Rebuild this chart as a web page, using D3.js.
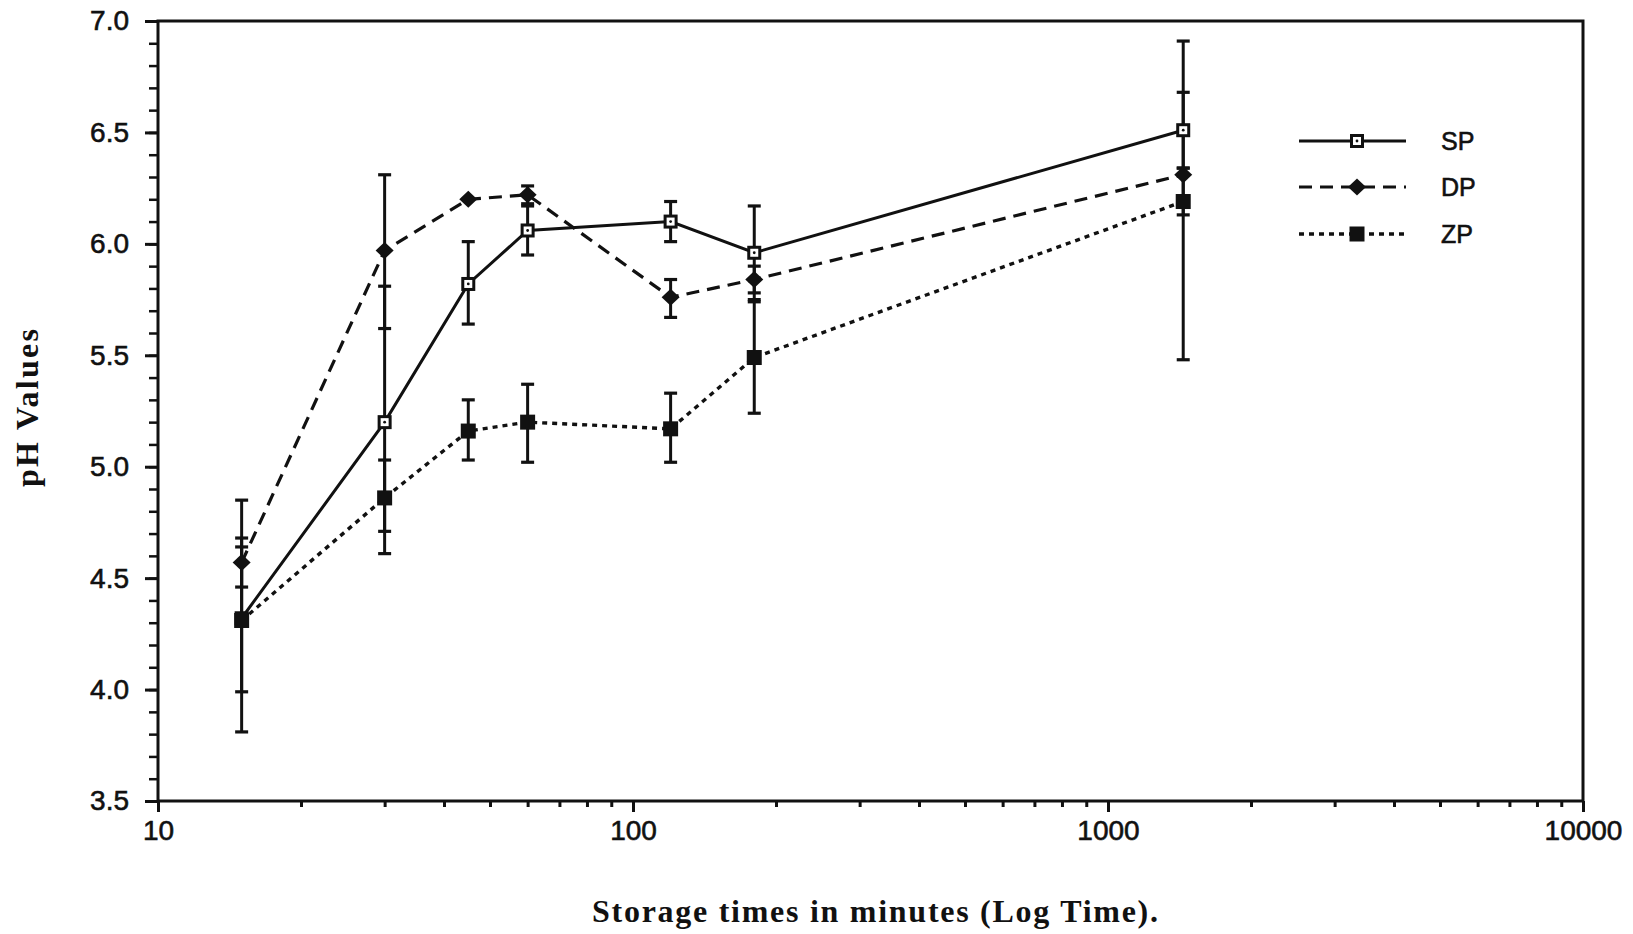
<!DOCTYPE html>
<html>
<head>
<meta charset="utf-8">
<script src="https://cdn.jsdelivr.net/npm/d3@7"></script>
<style>
  body { margin: 0; background: #fff; }
  svg { display: block; }
  .tickLab text, .legendLab { font-family: 'Liberation Sans Narrow', 'Arial Narrow', 'Liberation Sans', sans-serif; font-size: 28px; fill: #111; stroke: #111; stroke-width: 0.6px; }
  .axisTitle { font-family: 'Liberation Serif', 'Times New Roman', serif; font-weight: bold; fill: #111; }
</style>
</head>
<body>
<svg id="phChart"></svg>
<script>
// storage times in minutes
let times = [15, 30, 45, 60, 120, 180, 1440];

// SP series (mean and error bar ends)
let spMean = [4.32, 5.20, 5.82, 6.06, 6.10, 5.96, 6.51];
let spLow  = [3.81, 4.61, 5.64, 5.95, 6.01, 5.75, 6.34];
let spHigh = [4.85, 5.81, 6.01, 6.17, 6.19, 6.17, 6.68];

// DP series
let dpMean = [4.57, 5.97, 6.20, 6.22, 5.76, 5.84, 6.31];
let dpLow  = [4.46, 5.62, 6.20, 6.18, 5.67, 5.78, 6.13];
let dpHigh = [4.68, 6.31, 6.20, 6.26, 5.84, 5.90, 6.34];

// ZP series
let zpMean = [4.31, 4.86, 5.16, 5.20, 5.17, 5.49, 6.19];
let zpLow  = [3.99, 4.71, 5.03, 5.02, 5.02, 5.24, 5.48];
let zpHigh = [4.64, 5.03, 5.30, 5.37, 5.33, 5.74, 6.91];

// tick values
let xMajor = [10, 100, 1000, 10000];
let xMinor = [20, 30, 40, 50, 60, 70, 80, 90, 200, 300, 400, 500, 600, 700, 800, 900,
              2000, 3000, 4000, 5000, 6000, 7000, 8000, 9000];
let yMajor = [3.5, 4.0, 4.5, 5.0, 5.5, 6.0, 6.5, 7.0];
let yMinor = d3.range(35, 71).map(d => d / 10);

let seriesNames = ['SP', 'DP', 'ZP'];

// svg size and plot box
let widthSVG = 1633;
let heightSVG = 934;
let plot = { left: 158, right: 1583, top: 21, bottom: 801 };

let SVG = d3.select('svg#phChart')
            .attr('width', widthSVG)
            .attr('height', heightSVG);

// scales
let x = d3.scaleLog().domain([10, 10000]).range([plot.left, plot.right]);
let y = d3.scaleLinear().domain([3.5, 7.0]).range([plot.bottom, plot.top]);

// series table built from the arrays
let series = [
  { name: 'SP', mean: spMean, low: spLow, high: spHigh, dash: null, width: 3, marker: 'open' },
  { name: 'DP', mean: dpMean, low: dpLow, high: dpHigh, dash: '13,8', width: 3.2, marker: 'diamond' },
  { name: 'ZP', mean: zpMean, low: zpLow, high: zpHigh, dash: '5,5', width: 3.4, marker: 'square' }
];

// minor ticks first, then major with labels
SVG.append('g')
   .attr('transform', `translate(0, ${plot.bottom})`)
   .call(d3.axisBottom(x).tickValues(xMinor).tickSize(6).tickFormat(''))
   .call(g => g.select('.domain').remove())
   .selectAll('line').style('stroke', '#111').style('stroke-width', 3);

SVG.append('g')
   .attr('class', 'tickLab')
   .attr('transform', `translate(0, ${plot.bottom})`)
   .call(d3.axisBottom(x).tickValues(xMajor).tickSize(11).tickPadding(8).tickFormat(d3.format('d')))
   .call(g => g.select('.domain').remove())
   .call(g => g.selectAll('line').style('stroke', '#111').style('stroke-width', 3))
   .call(g => g.selectAll('text').attr('font-family', null).attr('font-size', null).attr('fill', null));

SVG.append('g')
   .attr('transform', `translate(${plot.left}, 0)`)
   .call(d3.axisLeft(y).tickValues(yMinor).tickSize(9).tickFormat(''))
   .call(g => g.select('.domain').remove())
   .selectAll('line').style('stroke', '#111').style('stroke-width', 2.5);

SVG.append('g')
   .attr('class', 'tickLab')
   .attr('transform', `translate(${plot.left}, 0)`)
   .call(d3.axisLeft(y).tickValues(yMajor).tickSize(13).tickPadding(16).tickFormat(d3.format('.1f')))
   .call(g => g.select('.domain').remove())
   .call(g => g.selectAll('line').style('stroke', '#111').style('stroke-width', 3))
   .call(g => g.selectAll('text').attr('font-family', null).attr('font-size', null).attr('fill', null));

// plot frame
SVG.append('rect')
   .attr('x', plot.left)
   .attr('y', plot.top)
   .attr('width', plot.right - plot.left)
   .attr('height', plot.bottom - plot.top)
   .style('fill', 'none')
   .style('stroke', '#111')
   .style('stroke-width', 3);

// marker drawing helper
function drawMarker(g, type, cx, cy) {
  if (type === 'open') {
    g.append('rect').attr('x', cx - 5.5).attr('y', cy - 5.5).attr('width', 11).attr('height', 11)
     .style('fill', '#fff').style('stroke', '#111').style('stroke-width', 3);
    g.append('circle').attr('cx', cx).attr('cy', cy).attr('r', 1.4).style('fill', '#111');
  } else if (type === 'diamond') {
    g.append('path')
     .attr('d', `M${cx - 9},${cy} L${cx},${cy - 8.5} L${cx + 9},${cy} L${cx},${cy + 8.5} Z`)
     .style('fill', '#111');
  } else {
    g.append('rect').attr('x', cx - 7.5).attr('y', cy - 7.5).attr('width', 15).attr('height', 15)
     .style('fill', '#111');
  }
}

let lineGen = d3.line()
  .x((d, i) => x(times[i]))
  .y(d => y(d));

let dataG = SVG.append('g').attr('class', 'dataGroup');

// error bars
series.forEach(s => {
  let eg = dataG.append('g').attr('class', 'errBars ' + s.name);
  times.forEach((t, i) => {
    if (s.high[i] - s.low[i] < 0.02) return;
    let cx = x(t);
    eg.append('line').attr('x1', cx).attr('x2', cx)
      .attr('y1', y(s.low[i])).attr('y2', y(s.high[i]))
      .style('stroke', '#111').style('stroke-width', 3);
    [s.low[i], s.high[i]].forEach(v => {
      eg.append('line').attr('x1', cx - 6.5).attr('x2', cx + 6.5)
        .attr('y1', y(v)).attr('y2', y(v))
        .style('stroke', '#111').style('stroke-width', 3.2);
    });
  });
});

// connecting lines
series.forEach(s => {
  dataG.append('path')
       .datum(s.mean)
       .attr('d', lineGen)
       .style('fill', 'none')
       .style('stroke', '#111')
       .style('stroke-width', s.width)
       .style('stroke-dasharray', s.dash);
});

// markers
series.forEach(s => {
  let mg = dataG.append('g').attr('class', 'markers ' + s.name);
  s.mean.forEach((v, i) => drawMarker(mg, s.marker, x(times[i]), y(v)));
});

// legend
let legend = SVG.append('g').attr('class', 'legend');
let legendY = [141, 187, 234];
series.forEach((s, i) => {
  legend.append('line')
        .attr('x1', 1299).attr('x2', 1406)
        .attr('y1', legendY[i]).attr('y2', legendY[i])
        .style('stroke', '#111')
        .style('stroke-width', s.width)
        .style('stroke-dasharray', s.dash);
  drawMarker(legend, s.marker, 1357, legendY[i]);
  legend.append('text')
        .attr('class', 'legendLab')
        .attr('x', 1441)
        .attr('y', legendY[i])
        .attr('dy', '0.35em')
        .style('font-size', '25px')
        .text(seriesNames[i]);
});

// axis titles
SVG.append('text')
   .attr('class', 'axisTitle')
   .attr('x', 875)
   .attr('y', 922)
   .attr('text-anchor', 'middle')
   .attr('textLength', 566)
   .attr('lengthAdjust', 'spacing')
   .style('font-size', '32px')
   .text('Storage times in minutes (Log Time).');

SVG.append('text')
   .attr('class', 'axisTitle')
   .attr('transform', 'translate(38, 408) rotate(-90)')
   .attr('text-anchor', 'middle')
   .attr('textLength', 158)
   .attr('lengthAdjust', 'spacing')
   .style('font-size', '32px')
   .text('pH Values');
</script>
</body>
</html>
